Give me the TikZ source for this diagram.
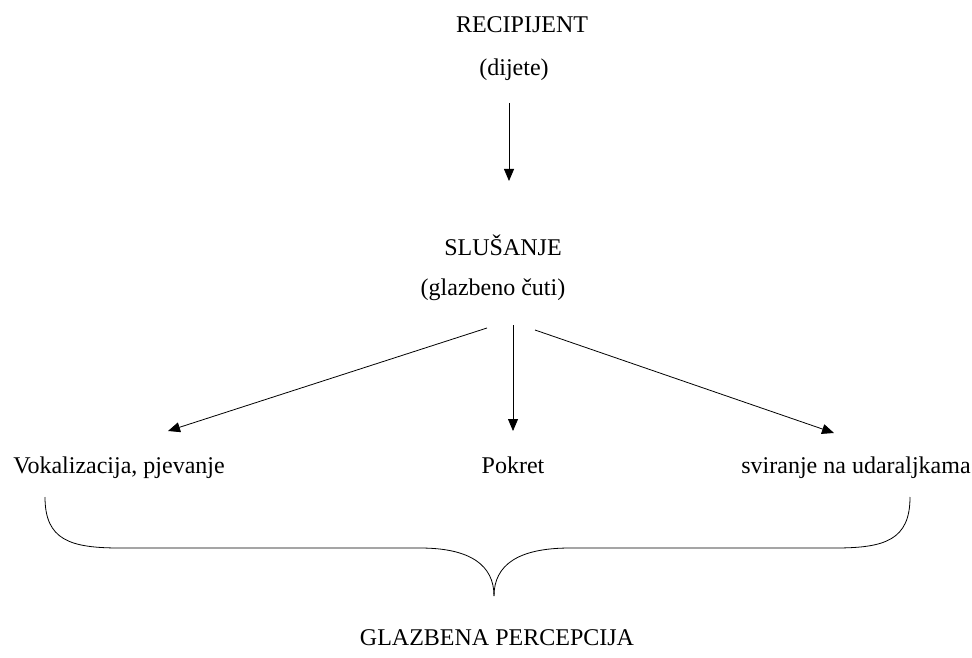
\documentclass[tikz,border=0pt]{standalone}
\usepackage{fontspec}
\setmainfont{Liberation Serif}
\usetikzlibrary{arrows.meta}
\begin{document}
\begin{tikzpicture}[x=0.5pt,y=-0.5pt,
		label/.style={font=\fontsize{12}{14}\selectfont,inner sep=1pt},
		arr/.style={-{Triangle[length=6pt,width=5pt]},thin}]
		\useasboundingbox (0,0) rectangle (972,657);
		\node [label] (rec) at (522,25) {RECIPIJENT};
		\node [label] (dij) at (514,70) {(dijete)};
		\node [label] (slu) at (503,245) {SLUŠANJE};
		\node [label] (glc) at (493,290) {(glazbeno čuti)};
		\node [label,anchor=base] (vok) at (119,473) {Vokalizacija, pjevanje};
		\node [label,anchor=base] (pok) at (513,473) {Pokret};
		\node [label,anchor=base] (svi) at (856,473) {sviranje na udaraljkama};
		\node [label] (per) at (497,638) {GLAZBENA PERCEPCIJA};
		\coordinate (a0) at (509,103);
		\coordinate (a1) at (509,181);
		\coordinate (l0) at (487,328);
		\coordinate (l1) at (168,431);
		\coordinate (m0) at (513,325);
		\coordinate (m1) at (513,431);
		\coordinate (r0) at (535,330);
		\coordinate (r1) at (834,433);
		\draw [arr] (a0) -- (a1);
		\draw [arr] (l0) -- (l1);
		\draw [arr] (m0) -- (m1);
		\draw [arr] (r0) -- (r1);
		% brace
		\draw [thin] (45,497) .. controls (45,540) and (70,548) .. (120,548)
			-- (420,548) .. controls (470,548) and (494,565) .. (494,596);
		\draw [thin] (910,497) .. controls (910,540) and (885,548) .. (835,548)
			-- (570,548) .. controls (518,548) and (494,565) .. (494,596);
	\end{tikzpicture}
\end{document}
